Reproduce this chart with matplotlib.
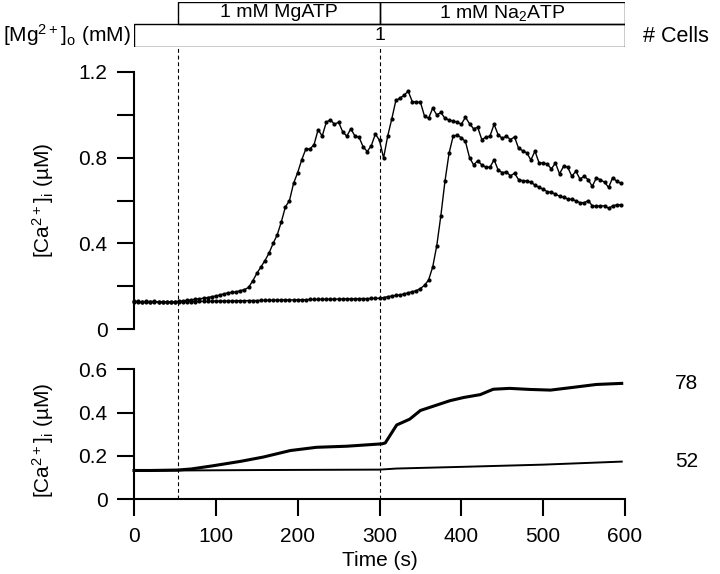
import matplotlib
matplotlib.use("Agg")
import matplotlib.pyplot as plt
import numpy as np
from matplotlib.patches import Rectangle

plt.rcParams['font.family'] = ['Liberation Sans', 'DejaVu Sans']
plt.rcParams['mathtext.default'] = 'regular'

# ---------------- data ----------------
sample_times = np.arange(0, 600, 5)  # s, 5-s sampling of single-cell traces

cell_a = [0.13, 0.13, 0.128, 0.13, 0.129, 0.13, 0.128, 0.129, 0.128, 0.127, 0.128,
          0.13, 0.133, 0.135, 0.137, 0.14, 0.142, 0.145, 0.148, 0.152, 0.155,
          0.16, 0.165, 0.17, 0.172, 0.175, 0.18, 0.185, 0.195, 0.225, 0.26,
          0.29, 0.32, 0.355, 0.40, 0.44, 0.50, 0.57, 0.60, 0.68, 0.73,
          0.79, 0.84, 0.84, 0.86, 0.93, 0.90, 0.965, 0.976, 0.955, 0.965,
          0.92, 0.90, 0.934, 0.90, 0.895, 0.85, 0.828, 0.856, 0.91, 0.88,
          0.798, 0.90, 0.98, 1.066, 1.077, 1.09, 1.11, 1.061, 1.058, 1.058,
          0.993, 0.983, 1.03, 0.999, 1.01, 0.983, 0.975, 0.97, 0.965, 0.955,
          0.988, 0.958, 0.934, 0.941, 0.884, 0.895, 0.90, 0.955, 0.906, 0.89,
          0.90, 0.884, 0.896, 0.843, 0.832, 0.822, 0.789, 0.83, 0.775, 0.775,
          0.77, 0.747, 0.775, 0.724, 0.76, 0.755, 0.713, 0.736, 0.70, 0.713,
          0.697, 0.666, 0.705, 0.697, 0.685, 0.661, 0.707, 0.689, 0.68]

cell_b = [0.128, 0.127, 0.128, 0.127, 0.128, 0.127, 0.128, 0.127, 0.127, 0.126, 0.127,
          0.127, 0.128, 0.128, 0.129, 0.129, 0.13, 0.13, 0.13, 0.131, 0.131,
          0.131, 0.132, 0.132, 0.132, 0.133, 0.133, 0.133, 0.134, 0.134, 0.134,
          0.135, 0.135, 0.135, 0.136, 0.136, 0.136, 0.137, 0.137, 0.137, 0.138,
          0.138, 0.138, 0.139, 0.139, 0.139, 0.14, 0.14, 0.14, 0.141, 0.141,
          0.141, 0.142, 0.142, 0.142, 0.143, 0.143, 0.143, 0.144, 0.144, 0.145,
          0.148, 0.152, 0.155, 0.158, 0.16, 0.165, 0.17, 0.175, 0.18, 0.19,
          0.205, 0.23, 0.29, 0.39, 0.53, 0.69, 0.82, 0.90, 0.905, 0.892,
          0.875, 0.80, 0.766, 0.785, 0.766, 0.755, 0.755, 0.79, 0.742, 0.73,
          0.733, 0.715, 0.727, 0.697, 0.692, 0.692, 0.685, 0.672, 0.661, 0.653,
          0.641, 0.638, 0.63, 0.62, 0.615, 0.607, 0.605, 0.599, 0.59, 0.59,
          0.599, 0.576, 0.573, 0.575, 0.575, 0.564, 0.575, 0.58, 0.58]

avg78_t = [0, 20, 53, 70, 97, 130, 158, 191, 223, 260, 303, 307, 321, 337, 350,
           370, 386, 403, 423, 439, 459, 484, 509, 533, 565, 596]
avg78 = [0.133, 0.133, 0.135, 0.14, 0.155, 0.175, 0.195, 0.225, 0.24, 0.245, 0.256,
         0.26, 0.343, 0.37, 0.41, 0.435, 0.455, 0.47, 0.483, 0.508, 0.512, 0.507,
         0.504, 0.515, 0.53, 0.535]

avg52_t = [0, 53, 150, 300, 321, 403, 500, 596]
avg52 = [0.132, 0.133, 0.135, 0.137, 0.142, 0.15, 0.16, 0.174]

cell_counts = ['78', '52']

time_ticks = [0, 100, 200, 300, 400, 500, 600]
upper_ticks = [0, 0.2, 0.4, 0.6, 0.8, 1.0, 1.2]
upper_labels = ['0', '', '0.4', '', '0.8', '', '1.2']
lower_ticks = [0, 0.2, 0.4, 0.6]
lower_labels = ['0', '0.2', '0.4', '0.6']

drug_bars = [('1 mM MgATP', 54, 300), ('1 mM Na$_2$ATP', 300, 600)]
mg_bar = ('1', 0, 600)
event_times = [54, 300]

# ---------------- figure ----------------
W_PX, H_PX = 720, 574
fig = plt.figure(figsize=(7.2, 5.74), dpi=100)
fig.patch.set_facecolor('white')

def fx(px):
    return px / W_PX

def fy(py):
    return 1 - py / H_PX

L = fx(134)
W = fx(625) - fx(134)
top_y0, top_y1 = 329.3, 71.7
bot_y0, bot_y1 = 499.3, 369.3
bar_y0, bar_y1 = 46.7, 1.7

ax_top = fig.add_axes([L, fy(top_y0), W, fy(top_y1) - fy(top_y0)])
ax_bot = fig.add_axes([L, fy(bot_y0), W, fy(bot_y1) - fy(bot_y0)])
ax_bar = fig.add_axes([L, fy(bar_y0), W, fy(bar_y1) - fy(bar_y0)])
ax_ov = fig.add_axes([L, fy(bot_y0), W, fy(bar_y0) - fy(bot_y0)])

FS = 15
for ax in (ax_top, ax_bot, ax_bar, ax_ov):
    ax.patch.set_visible(False)
    ax.set_xlim(0, 600)

# dashed event lines
ax_ov.set_ylim(0, 1)
ax_ov.axis('off')
for t in event_times:
    ax_ov.axvline(t, color='black', lw=0.8, ls=(0, (3.5, 2.5)))

# solution bars
ax_bar.set_ylim(0, 2)
ax_bar.axis('off')
lbl, s, e = mg_bar
ax_bar.add_patch(Rectangle((s, 0), e - s, 1, fill=False, ec='black', lw=1.0))
ax_bar.text((s + e) / 2, 0.5, lbl, ha='center', va='center', fontsize=14)
for lbl, s, e in drug_bars:
    ax_bar.add_patch(Rectangle((s, 1), e - s, 1, fill=False, ec='black', lw=1.0))
    ax_bar.text((s + e) / 2, 1.5, lbl, ha='center', va='center', fontsize=14)

fig.text(fx(3), fy(35), '[Mg$^{2+}$]$_o$ (mM)', ha='left', va='center', fontsize=FS)
fig.text(fx(643), fy(37), '# Cells', ha='left', va='center', fontsize=15.5)

# upper panel: single cells
for series in (cell_b, cell_a):
    ax_top.plot(sample_times, series, color='black', lw=1.0, marker='o', ms=2.0,
                clip_on=False)
ax_top.set_ylim(0, 1.2)
ax_top.set_yticks(upper_ticks)
ax_top.set_yticklabels(upper_labels)
ax_top.set_xticks([])
for sp in ('top', 'right', 'bottom'):
    ax_top.spines[sp].set_visible(False)
ax_top.spines['left'].set_linewidth(1.5)
ax_top.tick_params(axis='y', direction='out', length=12, width=1.5, pad=7, labelsize=FS)
ax_top.set_ylabel('[Ca$^{2+}$]$_i$ (µM)', fontsize=FS)
ax_top.yaxis.set_label_coords((56 - 134) / 491, 0.5)

# lower panel: averages
ax_bot.plot(avg78_t, avg78, color='black', lw=2.2, clip_on=False)
ax_bot.plot(avg52_t, avg52, color='black', lw=1.4, clip_on=False)
ax_bot.set_ylim(0, 0.6)
ax_bot.set_yticks(lower_ticks)
ax_bot.set_yticklabels(lower_labels)
ax_bot.set_xticks(time_ticks)
for sp in ('top', 'right'):
    ax_bot.spines[sp].set_visible(False)
for sp in ('left', 'bottom'):
    ax_bot.spines[sp].set_linewidth(1.5)
ax_bot.tick_params(axis='both', direction='out', length=12, width=1.5, labelsize=FS)
ax_bot.tick_params(axis='y', pad=7)
ax_bot.tick_params(axis='x', pad=8)
ax_bot.set_ylabel('[Ca$^{2+}$]$_i$ (µM)', fontsize=FS)
ax_bot.yaxis.set_label_coords((56 - 134) / 491, 0.45)
ax_bot.set_xlabel('Time (s)', fontsize=FS)
ax_bot.xaxis.set_label_coords(0.5, (499.3 - 551) / 130)

label_x = 661
for lbl, yv in zip(cell_counts, (avg78[-1], avg52[-1])):
    ax_bot.text(label_x, yv, lbl, ha='left', va='center', fontsize=FS, clip_on=False)

fig.savefig('out.png', dpi=100, facecolor='white')
